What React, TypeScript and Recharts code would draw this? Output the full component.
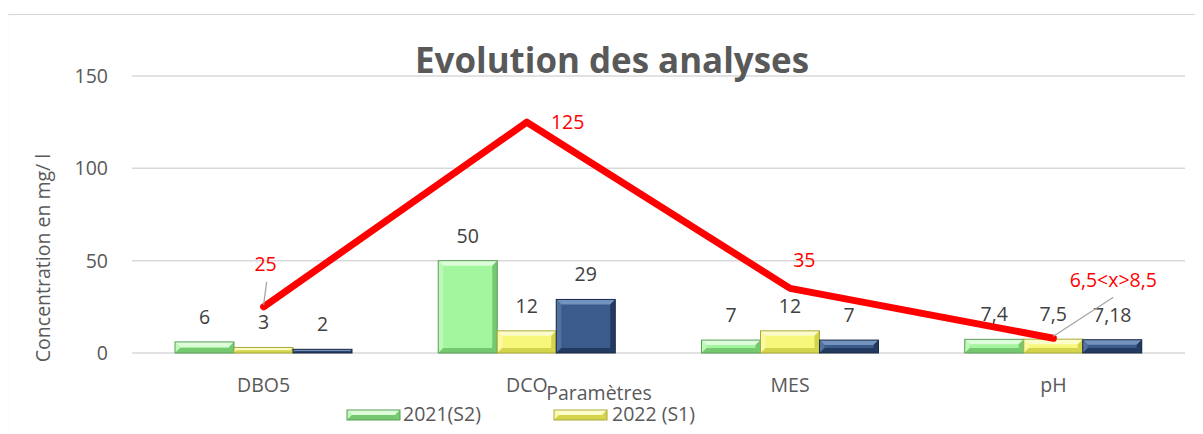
import React from 'react';
import {
  ComposedChart,
  Bar,
  Line,
  XAxis,
  YAxis,
  CartesianGrid,
  LabelList,
} from 'recharts';

const categories = ['DBO5', 'DCO', 'MES', 'pH'];
const serie2021S2 = [6, 50, 7, 7.4];
const serie2022S1 = [3, 12, 12, 7.5];
const serie2022S2 = [2, 29, 7, 7.18];
const normes = [25, 125, 35, 8];
const normeLabels = ['25', '125', '35', '6,5<x>8,5'];
const yTicks = [0, 50, 100, 150];

const data = categories.map((c, i) => ({
  cat: c,
  s1: serie2021S2[i],
  s2: serie2022S1[i],
  s3: serie2022S2[i],
  norme: normes[i],
  normeLabel: normeLabels[i],
}));

if (typeof document !== 'undefined') {
  document.documentElement.style.overflow = 'hidden';
  document.body.style.overflow = 'hidden';
}

const FONT = '"Open Sans", "DejaVu Sans", sans-serif';
const GREY = '#595959';
const W = 1203;
const H = 434;

type Pal = { base: string; light: string; side: string; dark: string; stroke: string };
const GREEN: Pal = { base: '#A3F59E', light: '#DDFCDA', side: '#BDF8B9', dark: '#74C870', stroke: '#5C9E59' };
const YELLOW: Pal = { base: '#F7F77B', light: '#FDFDCB', side: '#FAFAA6', dark: '#D3D34C', stroke: '#A9A93B' };
const BLUE: Pal = { base: '#3A5B8C', light: '#7492BE', side: '#54729F', dark: '#223A60', stroke: '#1A2B46' };

function BevelRect({ x, y, width, height, pal }: any) {
  if (width == null || height == null || height <= 0) return null;
  const b = Math.min(5, width / 2, height / 2);
  const x2 = x + width;
  const y2 = y + height;
  return (
    <g>
      <rect x={x} y={y} width={width} height={height} fill={pal.base} />
      <polygon points={`${x},${y} ${x2},${y} ${x2 - b},${y + b} ${x + b},${y + b}`} fill={pal.light} />
      <polygon points={`${x},${y} ${x + b},${y + b} ${x + b},${y2 - b} ${x},${y2}`} fill={pal.side} />
      <polygon points={`${x2},${y} ${x2},${y2} ${x2 - b},${y2 - b} ${x2 - b},${y + b}`} fill={pal.dark} />
      <polygon points={`${x},${y2} ${x2},${y2} ${x2 - b},${y2 - b} ${x + b},${y2 - b}`} fill={pal.dark} />
      <rect x={x} y={y} width={width} height={height} fill="none" stroke={pal.stroke} strokeWidth={1} />
    </g>
  );
}

const fmt = (v: any) => String(v).replace('.', ',');

// label placement relative to each line point (style only)
const lineLabelPos = [
  { dx: 2, dy: -43, anchor: 'middle', leader: [3, -25, 0, -2] },
  { dx: 24, dy: 0, anchor: 'start', leader: null },
  { dx: 3, dy: -28, anchor: 'start', leader: null },
  { dx: 60, dy: -58, anchor: 'middle', leader: [60, -41, 0, -2] },
];

function LineLabel(props: any) {
  const { x, y, index } = props;
  const p = lineLabelPos[index];
  const text = normeLabels[index];
  return (
    <g>
      {p.leader && (
        <line
          x1={x + p.leader[0]}
          y1={y + p.leader[1]}
          x2={x + p.leader[2]}
          y2={y + p.leader[3]}
          stroke="#A6A6A6"
          strokeWidth={1.3}
        />
      )}
      <text
        x={x + p.dx}
        y={y + p.dy}
        dy="0.35em"
        textAnchor={p.anchor}
        fill="#FF0000"
        fontSize={19.5}
        fontFamily={FONT}
      >
        {text}
      </text>
    </g>
  );
}

export default function App() {
  return (
    <div style={{ position: 'relative', width: W, height: H, marginLeft: -8, marginTop: -8, overflow: 'hidden', background: '#fff' }}>
      <ComposedChart
        width={W}
        height={H}
        data={data}
        margin={{ top: 76, right: 18, bottom: 41, left: 0 }}
        barGap={0}
        barSize={59}
      >
        <CartesianGrid vertical={false} stroke="#D9D9D9" strokeWidth={1.5} />
        <XAxis
          dataKey="cat"
          height={40}
          axisLine={false}
          tickLine={false}
          tickSize={0}
          tickMargin={25}
          tick={{ fill: GREY, fontSize: 19.5, fontFamily: FONT }}
        />
        <YAxis
          width={132}
          domain={[0, 150]}
          ticks={yTicks}
          axisLine={false}
          tickLine={false}
          tickSize={0}
          tickMargin={24}
          tick={{ fill: GREY, fontSize: 19.5, fontFamily: FONT }}
        />
        <Bar dataKey="s1" name="2021(S2)" isAnimationActive={false} shape={(p: any) => <BevelRect {...p} pal={GREEN} />}>
          <LabelList dataKey="s1" position="top" offset={18} formatter={fmt} fill="#404040" fontSize={19.5} fontFamily={FONT} />
        </Bar>
        <Bar dataKey="s2" name="2022 (S1)" isAnimationActive={false} shape={(p: any) => <BevelRect {...p} pal={YELLOW} />}>
          <LabelList dataKey="s2" position="top" offset={18} formatter={fmt} fill="#404040" fontSize={19.5} fontFamily={FONT} />
        </Bar>
        <Bar dataKey="s3" name="2022 (S2)" isAnimationActive={false} shape={(p: any) => <BevelRect {...p} pal={BLUE} />}>
          <LabelList dataKey="s3" position="top" offset={18} formatter={fmt} fill="#404040" fontSize={19.5} fontFamily={FONT} />
        </Bar>
        <Line
          dataKey="norme"
          name="Norme"
          stroke="#FF0000"
          strokeWidth={7}
          strokeLinejoin="round"
          strokeLinecap="round"
          dot={false}
          isAnimationActive={false}
        >
          <LabelList dataKey="norme" content={<LineLabel />} />
        </Line>
      </ComposedChart>
      <svg width={W} height={H} style={{ position: 'absolute', left: 0, top: 0, pointerEvents: 'none' }}>
        <rect x={7.5} y={14.5} width={1400} height={600} fill="none" stroke="#D9D9D9" strokeWidth={1.2} />
        <text
          x={612}
          y={73}
          textAnchor="middle"
          fill={GREY}
          fontSize={35}
          fontWeight="bold"
          fontFamily={FONT}
          textLength={394}
          lengthAdjust="spacingAndGlyphs"
        >
          Evolution des analyses
        </text>
        <text
          x={0}
          y={0}
          transform="translate(50,258) rotate(-90)"
          textAnchor="middle"
          fill={GREY}
          fontSize={19.5}
          fontFamily={FONT}
        >
          Concentration en mg/ l
        </text>
        <text x={599} y={400} textAnchor="middle" fill={GREY} fontSize={19.5} fontFamily={FONT}>
          Paramètres
        </text>
        <BevelRect x={347} y={410} width={53} height={10} pal={GREEN} />
        <text x={403} y={421} fill={GREY} fontSize={19.5} fontFamily={FONT}>
          2021(S2)
        </text>
        <BevelRect x={554} y={410} width={53} height={10} pal={YELLOW} />
        <text x={612} y={421} fill={GREY} fontSize={19.5} fontFamily={FONT}>
          2022 (S1)
        </text>
      </svg>
    </div>
  );
}
